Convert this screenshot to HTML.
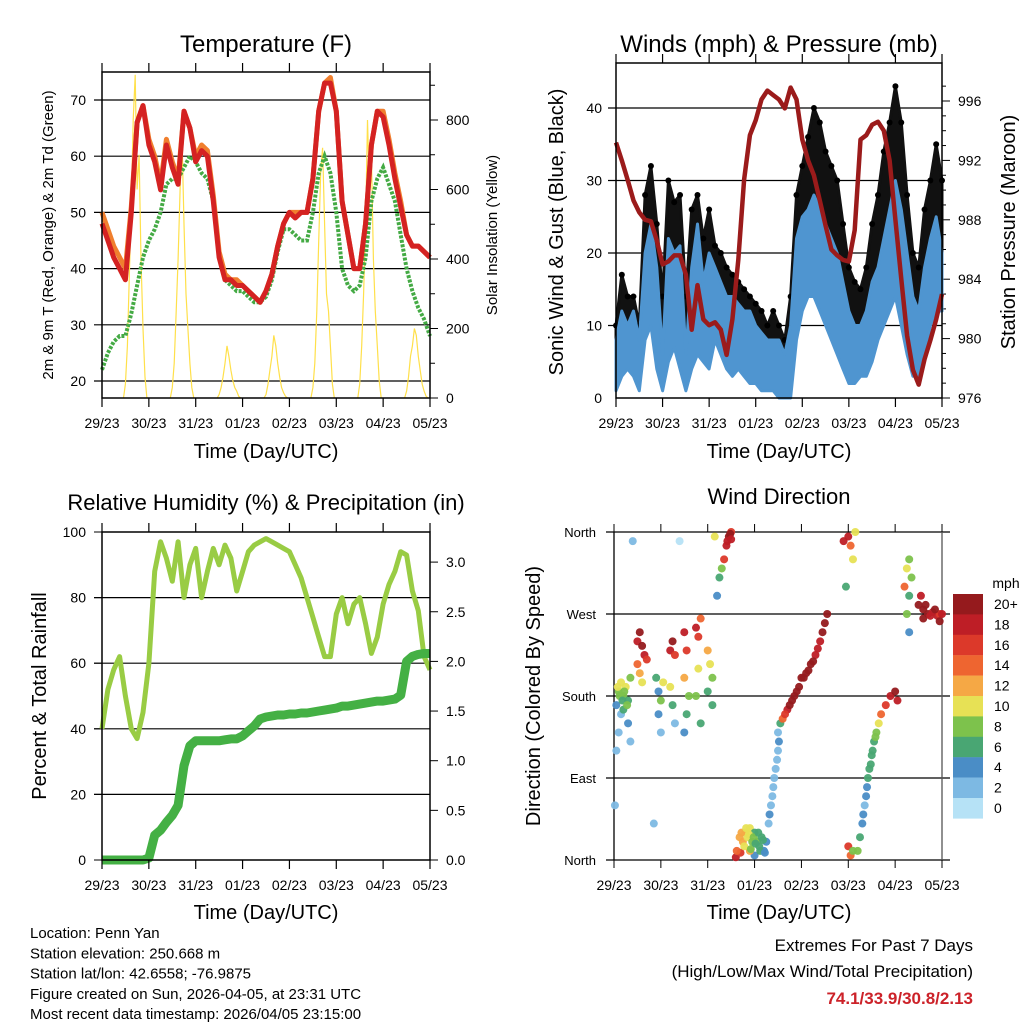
<!DOCTYPE html>
<html><head><meta charset="utf-8"><style>
body{margin:0;background:#fff}
svg{display:block;font-family:"Liberation Sans",sans-serif}
</style></head><body>
<svg id="c" width="1024" height="1024" viewBox="0 0 1024 1024"></svg>
<script>
// ---------- DATA ----------
const dayLabels=["29/23","30/23","31/23","01/23","02/23","03/23","04/23","05/23"];
const temp2m=[48,45,42,40,38,50,66,69,62,59,54,62,58,55,68,65,59,61,60,52,42,38,38,37,37,36,35,34,36,39,44,48,50,49,50,50,56,68,73,73,68,52,46,40,40,48,62,68,67,62,56,51,46,44,44,43,42];
const temp9m=[50,47,44,42,40,51,66,69,63,60,55,63,59,56,68,65,60,62,61,53,43,39,38,38,37,36,35,34,36,39,44,48,50,50,50,50,56,68,73,74,68,52,46,40,40,48,62,68,68,63,57,52,46,44,44,43,42];
const dewpt=[22,25,27,28,28,32,37,42,45,47,50,55,56,56,58,60,59,57,56,52,42,38,37,36,36,35,34,34,35,38,43,47,47,46,45,45,50,57,60,57,50,40,37,36,37,42,52,56,58,55,52,46,40,36,33,31,28];
const solarHours=[11,12,13,14,15,16,17,18,19,20,21,22,23];
const solar=[
[0,40,150,350,550,800,930,600,700,400,200,60,0],
[0,30,100,250,400,600,750,500,300,200,100,30,0],
[0,10,30,60,100,150,120,80,50,30,20,5,0],
[0,10,40,80,120,180,150,100,60,30,15,5,0],
[0,30,100,250,450,650,720,500,300,250,150,40,0],
[0,40,150,300,500,800,600,700,400,250,150,50,0],
[0,20,60,120,150,200,180,120,80,40,20,5,0]];
const pressure=[993.2,992.0,990.7,989.3,988.5,988.0,987.9,986.6,985.0,985.2,985.6,985.6,984.3,980.6,983.6,981.3,980.9,981.1,980.6,978.9,981.3,985.3,990.7,993.7,994.7,996.1,996.7,996.4,996.1,995.5,996.9,996.1,993.4,992.0,991.0,989.3,987.6,986.0,985.6,985.3,985.2,987.3,993.4,993.7,994.4,994.6,994.0,992.0,988.0,984.0,980.2,977.9,976.9,978.6,979.9,981.3,983.0];
const windHi=[8,12,10,12,8,20,24,18,6,22,20,21,6,18,24,16,20,18,16,14,14,13,12,12,10,9,8,8,8,6,10,22,25,26,28,26,24,22,20,16,12,10,10,12,16,18,22,26,30,26,20,14,12,18,22,25,20];
const windLo=[1,3,4,3,1,8,10,4,1,5,7,4,1,4,6,5,4,8,6,4,3,4,3,2,2,1,1,1,0,0,0,8,12,14,14,12,10,8,6,4,2,2,3,3,5,8,10,12,14,10,6,3,3,6,10,12,12];
const gustHi=[10,17,14,14,10,28,32,24,14,30,27,28,14,26,28,22,26,21,20,18,17,16,15,14,13,12,10,12,10,8,14,28,32,36,40,38,34,32,30,24,18,16,15,18,24,28,34,38,43,38,28,20,18,26,30,35,30];
const gustLo=[3,6,7,5,4,12,14,8,4,10,12,8,4,10,12,10,8,14,12,10,8,8,6,5,5,4,3,3,3,1,2,12,15,18,20,18,16,14,12,8,6,5,6,6,10,12,16,18,20,16,10,6,6,10,14,16,16];
const rh=[40,52,58,62,50,40,37,45,60,88,97,92,85,97,80,90,95,80,88,95,90,96,92,82,88,94,96,97,98,97,96,95,94,90,86,80,74,68,62,62,75,80,72,78,80,72,63,68,78,84,88,94,93,82,76,62,58];
const precip=[0,0,0,0,0,0,0,0,0.02,0.25,0.3,0.38,0.45,0.55,0.95,1.15,1.2,1.2,1.2,1.2,1.2,1.21,1.22,1.22,1.25,1.3,1.35,1.42,1.44,1.45,1.46,1.46,1.47,1.47,1.48,1.48,1.49,1.5,1.51,1.52,1.53,1.55,1.55,1.56,1.57,1.58,1.59,1.6,1.6,1.61,1.62,1.66,2.0,2.05,2.07,2.08,2.08];
const dirT=[0.05,0.1,0.15,0.2,0.25,0.3,0.35,0.15,0.1,0.05,0.02,0.2,0.3,0.35,0.5,0.55,0.6,0.65,0.5,0.55,0.6,0.7,0.9,0.95,1.0,1.05,0.95,1.0,1.2,1.25,1.3,1.2,1.25,1.3,1.5,1.55,1.5,1.6,1.55,1.5,1.75,1.8,1.85,1.8,1.75,1.85,2.0,2.05,2.1,2.0,2.1,2.2,2.25,2.3,2.35,2.4,2.45,2.5,2.6,2.7,2.75,2.8,2.85,2.9,2.95,3.0,3.05,3.1,3.15,3.2,3.25,3.0,2.9,3.3,3.35,3.4,3.45,3.5,3.5,3.55,3.6,3.7,3.8,3.9,4.0,4.1,4.2,4.3,4.4,4.5,4.55,4.9,5.0,5.05,5.1,5.15,4.95,5.0,5.05,5.1,5.2,5.25,5.3,5.35,5.4,5.45,5.5,5.55,5.6,5.65,5.7,5.8,5.9,6.0,6.05,6.2,6.25,6.3,6.35,6.3,6.25,6.3,6.5,6.6,6.7,6.8,6.9,6.95,6.55,0.4,1.4,2.15,0.85,
2.62,2.68,2.72,2.78,2.82,2.88,2.92,2.98,3.02,3.08,3.12,3.18,3.22,3.65,3.75,3.85,3.95,4.05,4.15,4.25,4.35,4.45,6.6,6.65,6.75,6.85,6.95,7.0,3.32,3.38,3.42,3.48,3.52,5.32,5.38,5.42,5.48,5.52,5.58,0.08,0.12,0.18,0.22,0.28,2.42,2.48,2.5];
const dirD=[170,185,195,180,190,175,200,160,140,120,60,165,150,130,240,250,235,225,215,205,195,220,200,185,175,195,160,140,230,240,225,190,170,150,250,230,200,180,160,140,255,245,265,210,180,150,230,215,200,185,170,290,310,320,330,345,355,360,3,8,20,30,25,35,20,30,20,15,25,10,20,5,10,40,60,80,100,120,140,150,155,165,175,185,200,205,215,225,240,260,270,350,355,345,330,360,300,15,5,10,10,25,40,60,80,100,115,130,140,150,160,170,180,185,175,300,320,330,310,290,270,250,280,275,270,272,268,270,290,350,350,355,40,
10,25,30,15,35,28,12,25,18,30,10,22,8,160,170,180,190,200,208,218,232,250,265,280,268,275,262,270,50,70,90,110,130,50,70,90,105,120,135,190,180,175,185,170,350,358,352];
const dirS=[4,9,10,8,10,6,8,3,2,2,3,6,4,3,18,20,20,18,14,12,10,16,6,4,8,10,4,2,18,20,16,10,6,3,18,16,12,8,6,4,18,16,14,10,8,6,12,10,8,7,6,4,6,8,16,18,20,16,18,16,12,11,11,10,8,7,8,6,6,5,4,5,12,3,3,2,3,3,2,7,14,18,20,20,20,20,20,18,18,20,20,18,18,14,10,10,6,16,14,8,8,6,4,3,4,6,6,6,8,10,14,16,18,20,18,14,10,8,8,6,8,4,20,20,20,18,18,16,18,2,1,10,3,
14,12,12,11,10,10,8,9,7,7,6,6,5,16,20,20,20,20,20,20,18,20,20,20,18,20,20,18,4,3,2,3,4,5,4,6,7,6,8,10,8,6,9,8,18,20,18];
const cbLabels=["20+","18","16","14","12","10","8","6","4","2","0"];
const cbColors=["#951a1d","#be1e26","#dc392a","#ee6530","#f5a845","#e7e155","#7dc24c","#49a673","#4a8dc6","#7db9e3","#b6e2f6"];
// ---------- DRAW ----------
const NS="http://www.w3.org/2000/svg",svg=document.getElementById('c');
function el(tag,attrs,parent){const e=document.createElementNS(NS,tag);for(const k in attrs)e.setAttribute(k,attrs[k]);(parent||svg).appendChild(e);return e;}
function txt(s,x,y,size,anchor,parent,extra){const t=el('text',Object.assign({x:x,y:y,'font-size':size,'text-anchor':anchor||'middle',fill:'#000'},extra||{}),parent);t.textContent=s;return t;}
function grp(name){const g=el('g',{});return g;}
function pathOf(xs,ys){return xs.map((x,i)=>(i?'L':'M')+x.toFixed(1)+' '+ys[i].toFixed(1)).join(' ');}
function ticksX(g,x0,x1,yTop,yBot){for(let i=0;i<8;i++){const x=x0+(x1-x0)*i/7;el('line',{x1:x,x2:x,y1:yTop-9,y2:yTop,stroke:'#000','stroke-width':1.2},g);el('line',{x1:x,x2:x,y1:yBot,y2:yBot+9,stroke:'#000','stroke-width':1.2},g);}}
function frame(g,x0,y0,x1,y1){el('rect',{x:x0,y:y0,width:x1-x0,height:y1-y0,fill:'none',stroke:'#000','stroke-width':1.5},g);}

// ===== Panel 1: Temperature =====
(function(){
const g=grp('temperature-panel');
const X0=102,X1=430,Y0=72,Y1=398;
const tx=i=>X0+(X1-X0)*i/(temp2m.length-1);
const ty=t=>100+(70-t)*5.62;
const sy=s=>398-s*0.3475;
txt('Temperature (F)',266,52,24,'middle',g);
[20,30,40,50,60,70].forEach(v=>{el('line',{x1:94,x2:X1,y1:ty(v),y2:ty(v),stroke:'#000','stroke-width':1.2},g);txt(String(v),86,ty(v)+5,14,'end',g);});
[0,200,400,600,800].forEach(v=>{el('line',{x1:X1,x2:X1+8,y1:sy(v),y2:sy(v),stroke:'#000'},g);txt(String(v),X1+16,sy(v)+5,14,'start',g);});
for(let v=100;v<=900;v+=200){el('line',{x1:X1,x2:X1+5,y1:sy(v),y2:sy(v),stroke:'#000'},g);}
solar.forEach((day,d)=>{const xs=day.map((v,k)=>X0+(d+solarHours[k]/24)*(X1-X0)/7);const ys=day.map(v=>sy(v));
 const p=el('path',{d:pathOf(xs,ys),fill:'none',stroke:'#ffe04a','stroke-width':1.2},g);});
const idx=temp2m.map((v,i)=>tx(i));
const po=el('path',{d:pathOf(idx,temp9m.map(ty)),fill:'none',stroke:'#f07f2e','stroke-width':5,'stroke-linejoin':'round'},g);
const pd=el('path',{d:pathOf(idx,dewpt.map(ty)),fill:'none',stroke:'#44aa44','stroke-width':4,'stroke-dasharray':'3 1.5'},g);
const pr=el('path',{d:pathOf(idx,temp2m.map(ty)),fill:'none',stroke:'#d42222','stroke-width':5,'stroke-linejoin':'round'},g);
frame(g,X0,Y0,X1,Y1);ticksX(g,X0,X1,Y0,Y1);
dayLabels.forEach((d,i)=>txt(d,X0+(X1-X0)*i/7,428,14,'middle',g));
txt('Time (Day/UTC)',266,458,20,'middle',g);
txt('2m & 9m T (Red, Orange) & 2m Td (Green)',0,0,15,'middle',g,{transform:'translate(53,235) rotate(-90)'});
txt('Solar Insolation (Yellow)',0,0,15,'middle',g,{transform:'translate(497,235) rotate(-90)'});
})();

// ===== Panel 2: Winds =====
(function(){
const g=grp('winds-pressure-panel');
const X0=616,X1=942,Y0=63,Y1=398;
const tx=i=>X0+(X1-X0)*i/(pressure.length-1);
const wy=w=>398-w*7.25;
const py=p=>398-(p-976)*14.85;
txt('Winds (mph) & Pressure (mb)',779,52,24,'middle',g);
[10,20,30,40].forEach(v=>{el('line',{x1:608,x2:X1,y1:wy(v),y2:wy(v),stroke:'#000','stroke-width':1.2},g);});
[0,10,20,30,40].forEach(v=>txt(String(v),602,wy(v)+5,14,'end',g));
[976,980,984,988,992,996].forEach(v=>{el('line',{x1:X1,x2:X1+8,y1:py(v),y2:py(v),stroke:'#000'},g);txt(String(v),X1+16,py(v)+5,14,'start',g);});
for(let v=977;v<=997;v++){if(v%4)el('line',{x1:X1,x2:X1+4,y1:py(v),y2:py(v),stroke:'#000'},g);}
const xs=pressure.map((v,i)=>tx(i));
const band=(hi,lo,col,name)=>{const d=pathOf(xs,hi.map(wy))+' '+pathOf(xs.slice().reverse(),lo.slice().reverse().map(wy)).replace('M','L')+' Z';const p=el('path',{d:d,fill:col,stroke:col,'stroke-width':3,'stroke-linejoin':'round'},g);};
band(gustHi,gustLo,'#111','gust-band');
gustHi.forEach((v,i)=>{const c=el('circle',{cx:tx(i),cy:wy(v),r:3,fill:'#000'},g);});
band(windHi,windLo,'#4f95d0','wind-band');
const pp=el('path',{d:pathOf(xs,pressure.map(py)),fill:'none',stroke:'#9b1b1b','stroke-width':4.5,'stroke-linejoin':'round'},g);
frame(g,X0,Y0,X1,Y1);ticksX(g,X0,X1,Y0,Y1);
dayLabels.forEach((d,i)=>txt(d,X0+(X1-X0)*i/7,428,14,'middle',g));
txt('Time (Day/UTC)',779,458,20,'middle',g);
txt('Sonic Wind & Gust (Blue, Black)',0,0,20,'middle',g,{transform:'translate(563,232) rotate(-90)'});
txt('Station Pressure (Maroon)',0,0,20,'middle',g,{transform:'translate(1015,232) rotate(-90)'});
})();

// ===== Panel 3: RH & Precip =====
(function(){
const g=grp('humidity-precip-panel');
const X0=102,X1=430,Y0=532,Y1=860;
const tx=i=>X0+(X1-X0)*i/(rh.length-1);
const ry=r=>860-r*3.28;
const qy=p=>860-p*99.3;
txt('Relative Humidity (%) & Precipitation (in)',266,510,22,'middle',g);
[20,40,60,80].forEach(v=>el('line',{x1:94,x2:X1,y1:ry(v),y2:ry(v),stroke:'#000','stroke-width':1.2},g));
[0,20,40,60,80,100].forEach(v=>{el('line',{x1:94,x2:X0,y1:ry(v),y2:ry(v),stroke:'#000'},g);txt(String(v),86,ry(v)+5,14,'end',g);});
[0,0.5,1,1.5,2,2.5,3].forEach(v=>{el('line',{x1:X1,x2:X1+8,y1:qy(v),y2:qy(v),stroke:'#000'},g);txt(v.toFixed(1),X1+16,qy(v)+5,14,'start',g);});
const xs=rh.map((v,i)=>tx(i));
const a=el('path',{d:pathOf(xs,rh.map(ry)),fill:'none',stroke:'#99cc44','stroke-width':5,'stroke-linejoin':'round'},g);
const b=el('path',{d:pathOf(xs,precip.map(qy)),fill:'none',stroke:'#44b044','stroke-width':9,'stroke-linejoin':'round'},g);
frame(g,X0,Y0,X1,Y1);ticksX(g,X0,X1,Y0,Y1);
dayLabels.forEach((d,i)=>txt(d,X0+(X1-X0)*i/7,890,14,'middle',g));
txt('Time (Day/UTC)',266,919,20,'middle',g);
txt('Percent & Total Rainfall',0,0,20,'middle',g,{transform:'translate(46,696) rotate(-90)'});
})();

// ===== Panel 4: Wind Direction =====
(function(){
const g=grp('wind-direction-panel');
const X0=614,X1=942,Y0=532,Y1=860;
const dx=t=>X0+t*(X1-X0)/7;
const dy=d=>860-d*0.9111;
txt('Wind Direction',779,504,22,'middle',g);
const names=['North','East','South','West','North'];
names.forEach((n,i)=>{const y=dy(i*90);el('line',{x1:606,x2:950,y1:y,y2:y,stroke:'#000','stroke-width':1.3},g);txt(n,596,y+5,13,'end',g);});
el('line',{x1:X0,x2:X0,y1:Y0,y2:Y1,stroke:'#000','stroke-width':1.3},g);
el('line',{x1:X1,x2:X1,y1:Y0,y2:Y1,stroke:'#555','stroke-width':1.3},g);
for(let i=0;i<8;i++){const x=X0+(X1-X0)*i/7;el('line',{x1:x,x2:x,y1:Y0-8,y2:Y0,stroke:'#000'},g);el('line',{x1:x,x2:x,y1:Y1,y2:Y1+8,stroke:'#000'},g);}
dirT.forEach((t,i)=>{const k=10-Math.min(10,Math.floor(dirS[i]/2));
 const c=el('circle',{cx:dx(t),cy:dy(dirD[i]),r:4,fill:cbColors[k],'fill-opacity':0.95},g);
 
 });
dayLabels.forEach((d,i)=>txt(d,X0+(X1-X0)*i/7,890,14,'middle',g));
txt('Time (Day/UTC)',779,919,20,'middle',g);
txt('Direction (Colored By Speed)',0,0,20,'middle',g,{transform:'translate(540,696) rotate(-90)'});
const cb=grp('speed-colorbar');
txt('mph',1006,588,14,'middle',cb);
cbColors.forEach((c,i)=>{el('rect',{x:953,y:594+i*20.4,width:30,height:20.6,fill:c},cb);txt(cbLabels[i],994,594+i*20.4+15,14,'start',cb);});
})();

// ===== Footer =====
const ft=grp('station-info');
["Location: Penn Yan","Station elevation: 250.668 m","Station lat/lon: 42.6558; -76.9875","Figure created on Sun, 2026-04-05, at 23:31 UTC","Most recent data timestamp: 2026/04/05 23:15:00"].forEach((s,i)=>txt(s,30,938+i*20.3,15,'start',ft));
const ex=grp('extremes-summary');
txt('Extremes For Past 7 Days',973,951,17,'end',ex);
txt('(High/Low/Max Wind/Total Precipitation)',973,977,17,'end',ex);
txt('74.1/33.9/30.8/2.13',973,1004,17,'end',ex,{fill:'#cc2229','font-weight':'bold'});
</script>
</body></html>
